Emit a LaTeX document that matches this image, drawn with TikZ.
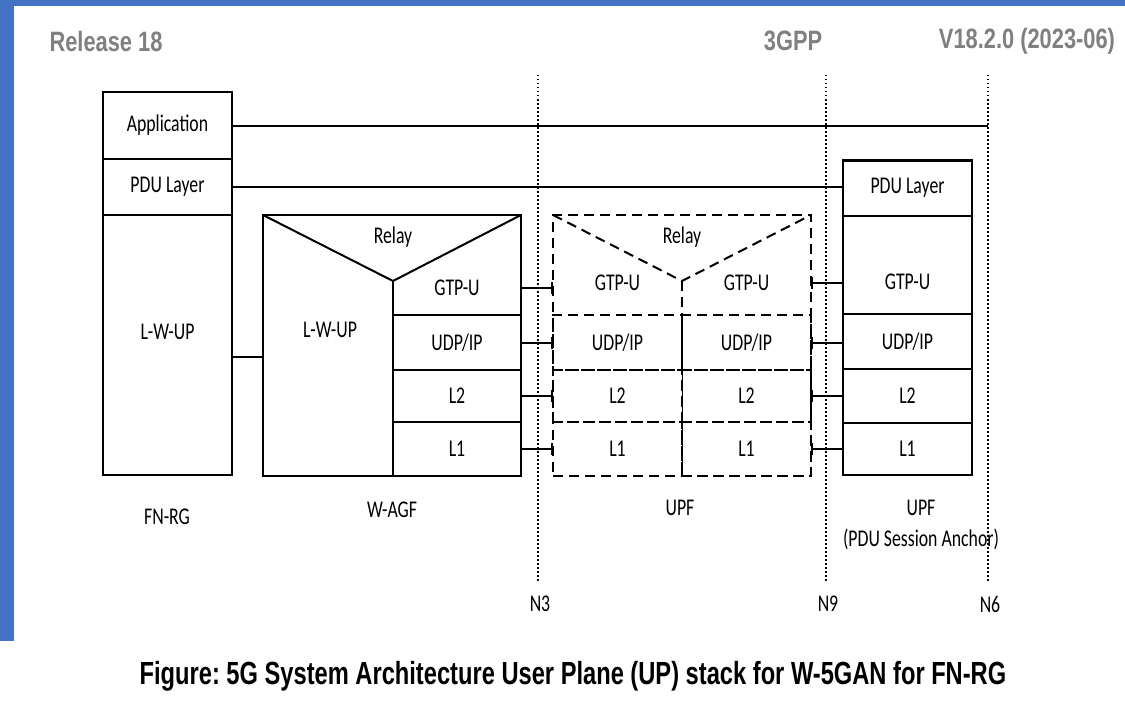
\documentclass[tikz,border=0pt]{standalone}
\usepackage{fontspec}
\usepackage{xcolor}
\usetikzlibrary{arrows.meta,positioning}

\newfontfamily\lblfont[FakeStretch=0.74]{Carlito}
\newfontfamily\hdrfont[FakeStretch=0.78]{Liberation Sans}
\newfontfamily\capfont[FakeStretch=0.74]{Liberation Sans}
\definecolor{slideblue}{HTML}{4472C4}
\definecolor{hdrgray}{HTML}{808080}

\begin{document}
\frenchspacing
\begin{tikzpicture}[
    x=1pt, y=-1pt,
    layer/.style={draw, line width=1.8pt, minimum width=129pt, inner sep=0pt,
        outer sep=0pt, font=\lblfont\fontsize{24}{27}\selectfont},
    dlayer/.style={layer, dash pattern=on 10pt off 6pt},
    lbl/.style={inner sep=0pt, font=\lblfont\fontsize{24}{27}\selectfont},
    hdr/.style={inner sep=0pt, text=hdrgray, font=\hdrfont\bfseries\fontsize{28}{32}\selectfont},
    link/.style={line width=2pt},
    cut/.style={line width=1.2pt, dash pattern=on 1.5pt off 2.5pt}
]
    \useasboundingbox (0,0) rectangle (1125,709);
    \fill[white] (0,0) rectangle (1125,709);
    \fill[slideblue] (0,0) rectangle (1125,6);
    \fill[slideblue] (0,0) rectangle (14,641);

    % page header
    \node[hdr] (rel) at (106,41) {Release 18};
    \node[hdr] (org) at (793,41) {3GPP};
    \node[hdr] (ver) at (1027,41) {V18.2.0 (2023-06)};

    % reference points
    \foreach \x/\n in {538/N3, 826/N9, 988/N6} {
        \coordinate (\n top) at (\x,75);
        \draw[cut] (\n top) -- (\x,582);
        \node[lbl] (\n) at (\x+2,604) {\n};
    }

    % FN-RG
    \node[layer, minimum height=67pt] (fnapp) at (167.5,125.5) {Application};
    \node[layer, minimum height=56pt] (fnpdu) at (167.5,187) {PDU Layer};
    \node[layer, minimum height=260pt, label={[lbl, yshift=13pt]center:L-W-UP}] (fnlw) at (167.5,345) {};
    \node[lbl] (fnrg) at (167,517) {FN-RG};

    % W-AGF
    \node[layer, minimum width=258pt, minimum height=261pt] (wagf) at (392,345.5) {};
    \node[lbl] (wrelay) at (393,237) {Relay};
    \node[lbl] (wlw) at (330,330) {L-W-UP};
    \node[lbl] (wgtp) at (457,288) {GTP-U};
    \node[layer, minimum width=128pt, minimum height=55pt] (wudp) at (457,342.5) {UDP/IP};
    \node[layer, minimum width=128pt, minimum height=52pt] (wl2) at (457,396) {L2};
    \node[layer, minimum width=128pt, minimum height=54pt] (wl1) at (457,449) {L1};
    \coordinate (wtip) at (393,281);
    \draw[link] (wagf.north west) -- (wtip) -- (wagf.north east);
    \draw[link] (wtip) -- (wudp.north west);
    \node[lbl] (wagfname) at (392,510) {W-AGF};

    % UPF (intermediate)
    \node[dlayer, minimum width=258pt, minimum height=261pt] (upf) at (682,345.5) {};
    \node[lbl] (urelay) at (682,237) {Relay};
    \node[lbl] (ugtpa) at (617.5,283) {GTP-U};
    \node[lbl] (ugtpb) at (746.5,283) {GTP-U};
    \node[dlayer, minimum height=55pt] (uudpa) at (617.5,342.5) {UDP/IP};
    \node[dlayer, minimum height=55pt] (uudpb) at (746.5,342.5) {UDP/IP};
    \node[dlayer, minimum height=52pt] (ul2a) at (617.5,396) {L2};
    \node[dlayer, minimum height=52pt] (ul2b) at (746.5,396) {L2};
    \node[dlayer, minimum height=54pt] (ul1a) at (617.5,449) {L1};
    \node[dlayer, minimum height=54pt] (ul1b) at (746.5,449) {L1};
    \coordinate (utip) at (682,281);
    \draw[link, dash pattern=on 10pt off 6pt] (upf.north west) -- (utip) -- (upf.north east);
    \draw[link, dash pattern=on 10pt off 6pt] (utip) -- (uudpa.north east);
    \draw[line width=1pt] (uudpa.north east) -- (ul1a.south east);
    \node[lbl] (upfname) at (680,508) {UPF};

    % UPF (PDU Session Anchor)
    \node[layer, minimum height=56pt] (ppdu) at (907.5,188) {PDU Layer};
    \node[layer, minimum height=98pt, label={[lbl, yshift=-17pt]center:GTP-U}] (pgtp) at (907.5,265) {};
    \node[layer, minimum height=55pt] (pudp) at (907.5,341.5) {UDP/IP};
    \node[layer, minimum height=54pt] (pl2) at (907.5,396) {L2};
    \node[layer, minimum height=52pt] (pl1) at (907.5,449) {L1};
    \draw[line width=3pt] (ppdu.north west) -- (ppdu.north east);
    \node[lbl, align=center] (psaname) at (921,525) {UPF\\[4pt](PDU Session Anchor)};

    % peer connections
    \draw[link] (fnapp.east) -- (fnapp.east -| N6top);
    \draw[link] (fnpdu.east) -- (fnpdu.east -| ppdu.west);
    \draw[link] ([yshift=-12pt]fnlw.east) -- ([yshift=-12pt]fnlw.east -| wagf.west);
    \foreach \a in {wgtp, wudp, wl2, wl1}
        \draw[link, -{Bar[width=12pt]}] (\a.east -| wagf.east) -- (\a.east -| upf.west);
    \foreach \a/\b in {ugtpb/pgtp, uudpb/pudp, ul2b/pl2, ul1b/pl1}
        \draw[link, {Bar[width=12pt]}-] (\a.east -| upf.east) -- (\a.east -| \b.west);

    % caption
    \node[inner sep=0pt, font=\capfont\bfseries\fontsize{32}{36}\selectfont] (caption) at (573,676)
        {Figure: 5G System Architecture User Plane (UP) stack for W-5GAN for FN-RG};
\end{tikzpicture}
\end{document}
